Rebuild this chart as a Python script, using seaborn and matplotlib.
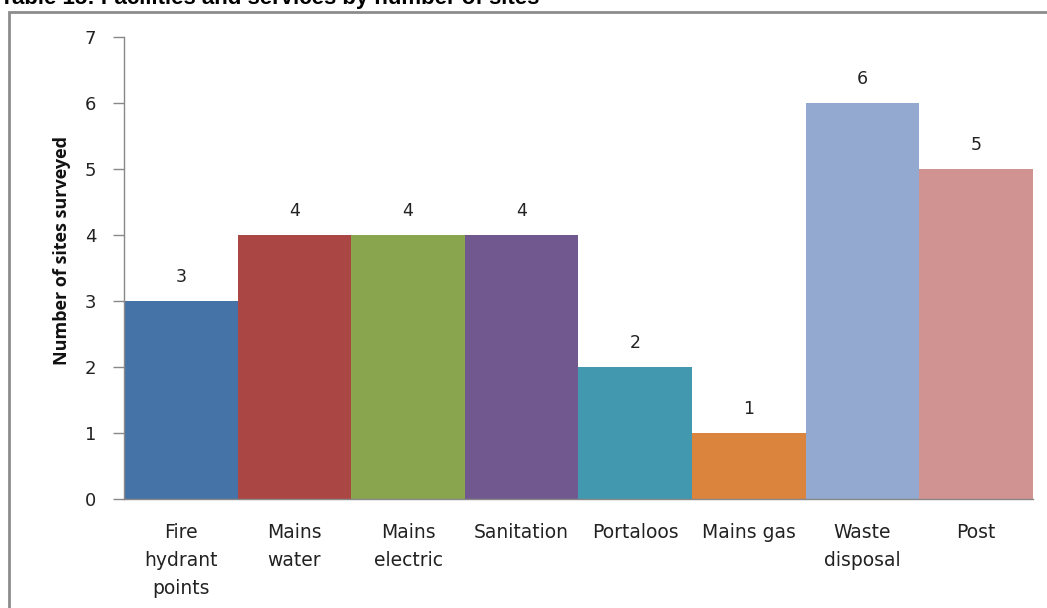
import numpy as np
import pandas as pd
import seaborn as sns
import matplotlib
matplotlib.use("Agg")
import matplotlib.pyplot as plt
from matplotlib.patches import Rectangle

categories = ["Fire\nhydrant\npoints", "Mains\nwater", "Mains\nelectric", "Sanitation",
              "Portaloos", "Mains gas", "Waste\ndisposal", "Post"]
sites = [3, 4, 4, 4, 2, 1, 6, 5]
colors = ["#4572A7", "#AA4643", "#89A54E", "#71588F",
          "#4198AF", "#DB843D", "#93A9CF", "#D19392"]

sns.set_style("white")
plt.rcParams['font.family'] = ['DejaVu Sans']

df = pd.DataFrame({"facility": categories, "sites": sites})

fig = plt.figure(figsize=(10.47, 6.08), dpi=100)
ax = fig.add_axes([0.1184, 0.1793, 0.8682, 0.7598])

sns.barplot(data=df, x="facility", y="sites", hue="facility", palette=colors,
            width=1.0, legend=False, saturation=1, linewidth=0, ax=ax)

for i, v in enumerate(sites):
    ax.annotate(str(v), (i, v), xytext=(0, 11), textcoords="offset points",
                ha="center", va="bottom", fontsize=12.5, color="#222222")

ax.set_ylim(0, 7)
ax.set_xlim(-0.5, len(categories) - 0.5)
ax.set_yticks(range(0, 8))
ax.set_xlabel("")
ax.set_ylabel("Number of sites surveyed", fontsize=13, fontweight="bold",
              family=["Open Sans", "DejaVu Sans"], color="#111111")
ax.yaxis.set_label_coords(-0.058, 0.537)

for side in ["top", "right"]:
    ax.spines[side].set_visible(False)
for side in ["left", "bottom"]:
    ax.spines[side].set_color("#888888")
    ax.spines[side].set_linewidth(1)

ax.tick_params(axis="y", which="both", left=True, length=8, width=1, color="#888888",
               labelsize=13, labelcolor="#222222", pad=12)
ax.tick_params(axis="x", bottom=False, labelsize=13.5, labelcolor="#222222", pad=14)
for lbl in ax.get_xticklabels():
    lbl.set_linespacing(1.58)
    lbl.set_verticalalignment("top")

# outer frame like the original document box
fig.patches.append(Rectangle((9 / 1047, -0.05), 1.1, 1.05 - 12 / 608, transform=fig.transFigure,
                             fill=False, edgecolor="#8c8c8c", linewidth=2, zorder=0))

# title sits partly above the crop, as in the source page
fig.text(0, 1 - 4 / 608, "Table 15: Facilities and services by number of sites",
         fontsize=16, fontweight="bold", family=["Liberation Sans", "DejaVu Sans"],
         ha="left", va="baseline", color="#000000")

fig.savefig("out.png", dpi=100)
